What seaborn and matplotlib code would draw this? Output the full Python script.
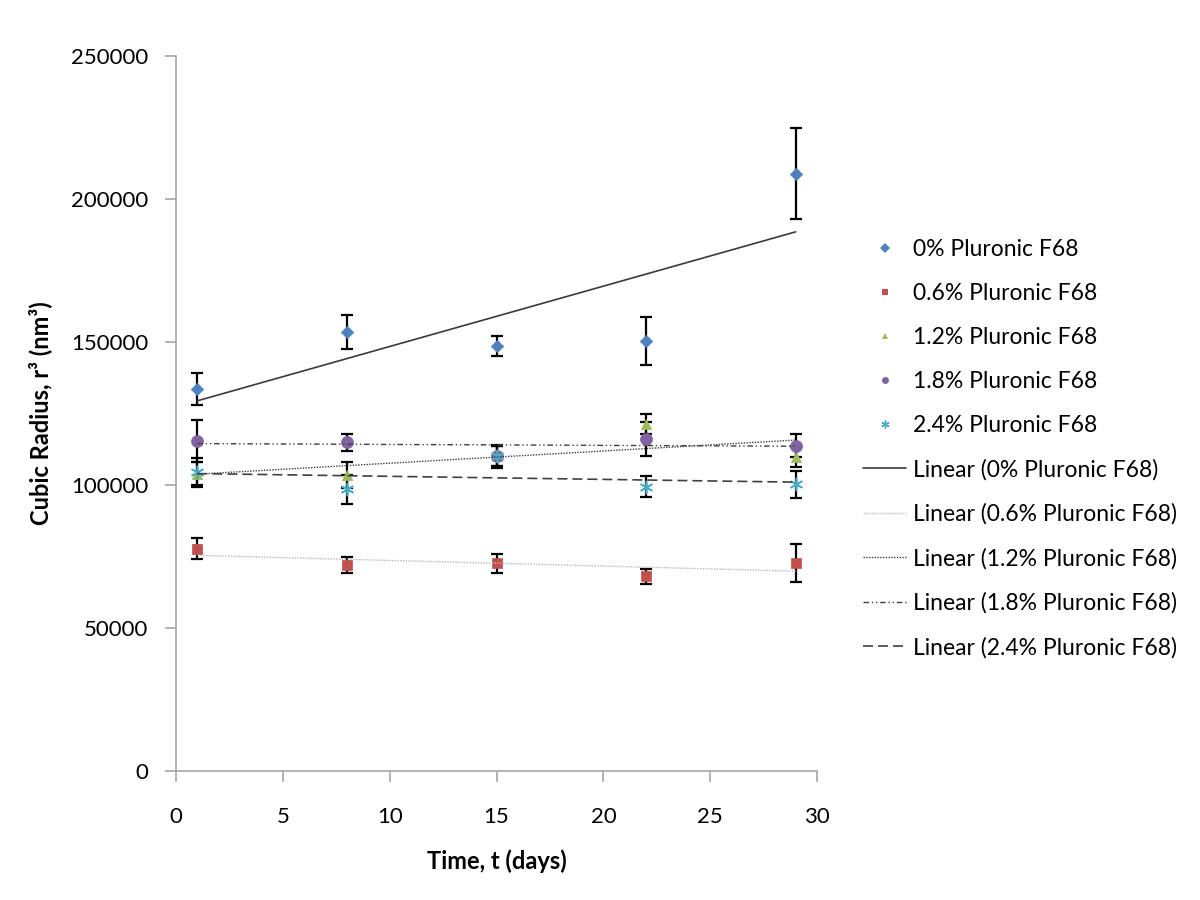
import numpy as np
import pandas as pd
import matplotlib
matplotlib.use("Agg")
import matplotlib.pyplot as plt
import seaborn as sns
from matplotlib.lines import Line2D

days = [1, 8, 15, 22, 29]
series_names = ["0% Pluronic F68", "0.6% Pluronic F68", "1.2% Pluronic F68",
                "1.8% Pluronic F68", "2.4% Pluronic F68"]
r3_0 = [133500, 153500, 148600, 150400, 208900]
err_0 = [5500, 6000, 3500, 8500, 16000]
r3_06 = [77800, 71900, 72600, 68100, 72800]
err_06 = [3500, 2800, 3300, 2700, 6700]
r3_12 = [104000, 103400, 110100, 121400, 109900]
err_12 = [4000, 4500, 3500, 3500, 3500]
r3_18 = [115400, 114900, 110100, 116000, 113700]
err_18 = [7500, 3000, 4000, 6000, 4000]
r3_24 = [104400, 98500, 110000, 99400, 100200]
err_24 = [5000, 5000, 3500, 3600, 4800]

values = [r3_0, r3_06, r3_12, r3_18, r3_24]
errors = [err_0, err_06, err_12, err_18, err_24]
colors = ["#4F81BD", "#C0504D", "#9BBB59", "#8064A2", "#4BACC6"]
markers = ["D", "s", "^", "o", (6, 2, 0)]
msizes = [40, 60, 55, 75, 75]
line_styles = [dict(color="#3a3a3a", lw=1.2, ls="-"),
               dict(color="#b8b8b8", lw=1.0, ls=(0, (1, 1))),
               dict(color="#404040", lw=1.0, ls=(0, (1, 1))),
               dict(color="#404040", lw=1.0, ls=(0, (4, 2, 1, 2, 1, 2))),
               dict(color="#404040", lw=1.2, ls=(0, (6, 3)))]

rows = []
for name, v, e in zip(series_names, values, errors):
    for d, y, er in zip(days, v, e):
        rows.append(dict(series=name, day=d, r3=y, err=er))
df = pd.DataFrame(rows)

sns.set_style("white")
plt.rcParams["font.family"] = ["Lato", "DejaVu Sans"]
plt.rcParams["text.color"] = "black"
plt.rcParams["axes.labelcolor"] = "black"
plt.rcParams["xtick.color"] = "black"
plt.rcParams["ytick.color"] = "black"

fig = plt.figure(figsize=(12, 9), dpi=100)
ax = fig.add_axes([0.1467, 0.1433, 0.5342, 0.7945])

for i, name in enumerate(series_names):
    sub = df[df.series == name]
    ax.errorbar(sub.day, sub.r3, yerr=sub.err, fmt="none", ecolor="black",
                elinewidth=1.6, capsize=4.5, capthick=1.6, zorder=2)
    sns.scatterplot(data=sub, x="day", y="r3", marker=markers[i], color=colors[i],
                    s=msizes[i], edgecolor=colors[i] if i != 4 else None,
                    linewidth=1.2 if i == 4 else 0.5, ax=ax, zorder=3, legend=False)
    sns.regplot(data=sub, x="day", y="r3", scatter=False, ci=None, ax=ax,
                line_kws=dict(zorder=4, **line_styles[i]), truncate=True)

ax.set_xlim(0, 30)
ax.set_ylim(0, 250000)
ax.set_xticks([0, 5, 10, 15, 20, 25, 30])
ax.set_yticks([0, 50000, 100000, 150000, 200000, 250000])
ax.set_yticklabels(["0", "50000", "100000", "150000", "200000", "250000"])
for s in ["top", "right"]:
    ax.spines[s].set_visible(False)
for s in ["left", "bottom"]:
    ax.spines[s].set_color("#a6a6a6")
    ax.spines[s].set_linewidth(1.2)
ax.tick_params(axis="both", direction="out", length=8, width=1.2, color="#a6a6a6",
               labelsize=16, labelcolor="black", left=True, bottom=True)
ax.tick_params(axis="y", pad=12)
ax.tick_params(axis="x", pad=18)
ax.set_xlabel("Time, t (days)", fontsize=17, fontweight="bold", labelpad=16)
ax.set_ylabel("Cubic Radius, r³ (nm³)", fontsize=17, fontweight="bold", labelpad=14)
ax.grid(False)

handles = []
labels = []
for i, name in enumerate(series_names):
    handles.append(Line2D([], [], ls="none", marker=markers[i], color=colors[i],
                          markersize=5 if i != 4 else 6, markeredgewidth=1 if i == 4 else 0))
    labels.append(name)
for i, name in enumerate(series_names):
    handles.append(Line2D([], [], **line_styles[i]))
    labels.append("Linear (" + name + ")")
leg = fig.legend(handles, labels, loc="upper left", bbox_to_anchor=(0.719, 0.734),
                 frameon=False, fontsize=16.5, labelspacing=1.0, handlelength=1.9,
                 handletextpad=0.3, borderaxespad=0, borderpad=0)

fig.savefig("out.png", dpi=100, facecolor="white")
